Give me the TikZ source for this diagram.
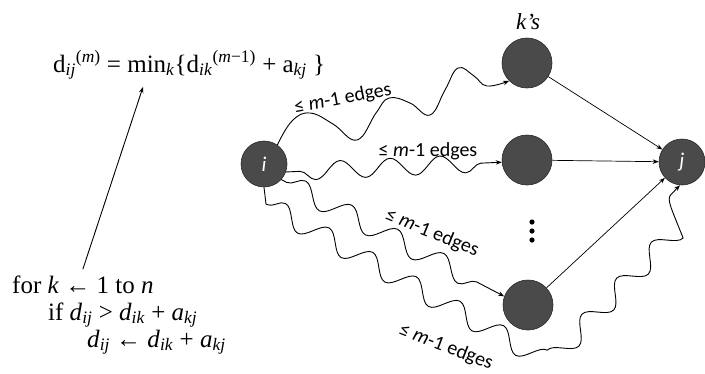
\documentclass[tikz,border=0pt]{standalone}
\usepackage{fontspec}
\setmainfont{Liberation Serif}
\newfontfamily\lblfont{Carlito}
\usetikzlibrary{decorations.pathmorphing,arrows.meta}
\definecolor{ball}{RGB}{74,74,74}
\begin{document}
\begin{tikzpicture}[x=1pt,y=-1pt,
  vertex/.style={circle,fill=ball,draw=black!85,line width=0.6pt,minimum size=50pt,inner sep=0pt},
  smallvertex/.style={vertex,minimum size=46pt,font=\lblfont\itshape\fontsize{21}{21}\selectfont,text=white},
  tip/.style={-{Stealth[length=6pt,width=4.5pt]}},
  wave/.style={tip,line width=0.9pt,decorate},
  straight/.style={tip,line width=0.7pt},
  edgelbl/.style={font=\lblfont\fontsize{20}{22}\selectfont,inner sep=1pt},
  code/.style={font=\fontsize{25}{28}\selectfont,anchor=base west,inner sep=0pt},
]
\useasboundingbox (0,0) rectangle (705,373);

% vertices
\node[smallvertex] (i) at (264,164) {i};
\node[vertex] (kt) at (527,63) {};
\node[vertex] (km) at (527,160) {};
\node[vertex] (kb) at (528,305) {};
\node[smallvertex] (j) at (682,162) {j};
\node[font=\itshape\fontsize{23}{24}\selectfont,inner sep=0pt] (ks) at (528,22) {k’s};

% dots
\fill (532,222) circle[radius=2.6pt];
\fill (532,231) circle[radius=2.6pt];
\fill (532,240) circle[radius=2.6pt];

% formula and code
\node[code] (f) at (53,72) {d\textsubscript{\textit{ij}}\textsuperscript{(\textit{m})} = min\textsubscript{\textit{k}}\{d\textsubscript{\textit{ik}}\textsuperscript{(\textit{m}−1)} + a\textsubscript{\textit{kj}} \}};
\node[code] (l1) at (12,293) {for \textit{k} ← 1 to \textit{n}};
\node[code] (l2) at (48,320) {if \textit{d}\textsubscript{\textit{ij}} > \textit{d}\textsubscript{\textit{ik}} + \textit{a}\textsubscript{\textit{kj}}};
\node[code] (l3) at (87,347) {\textit{d}\textsubscript{\textit{ij}} ← \textit{d}\textsubscript{\textit{ik}} + \textit{a}\textsubscript{\textit{kj}}};
\coordinate (ftip) at (143,87);
\draw[straight,line width=0.9pt] ([yshift=6pt]l1.north) -- (ftip);

% straight edges k -> j
\draw[straight] (kt) -- (j);
\draw[straight] (km) -- (j);
\draw[straight] (kb) -- (j);

% wavy paths
\draw[tip,line width=0.9pt] plot[smooth,tension=0.7] coordinates {(i.55) (292,121) (310,113) (333,124) (357,140) (376,113) (389,98) (410,103) (430,115) (445,90) (458,68) (474,76) (487,86) (kt.-135)};
\draw[wave,decoration={snake,segment length=50pt,amplitude=9pt,pre length=14pt,post length=8pt,mirror}] (i.-20) -- (km.-175);
\draw[wave,decoration={snake,segment length=52pt,amplitude=10pt,pre length=6pt,post length=10pt}] (i.-42) -- (kb.160);
\coordinate (va) at (266,204);
\coordinate (vb) at (523,348);
\draw[wave,decoration={snake,segment length=50pt,amplitude=10pt,pre length=18pt,post length=10pt}] (i.-90) -- (va) -- (vb) -- (j.-95);

% edge labels
\node[edgelbl,rotate=11] (e1) at (343,99) {≤ \textit{m}-1 edges};
\node[edgelbl] (e2) at (428,151) {≤ \textit{m}-1 edges};
\node[edgelbl,rotate=-22] (e3) at (432,233) {≤ \textit{m}-1 edges};
\node[edgelbl,rotate=-21] (e4) at (446,347) {≤ \textit{m}-1 edges};
\end{tikzpicture}
\end{document}
